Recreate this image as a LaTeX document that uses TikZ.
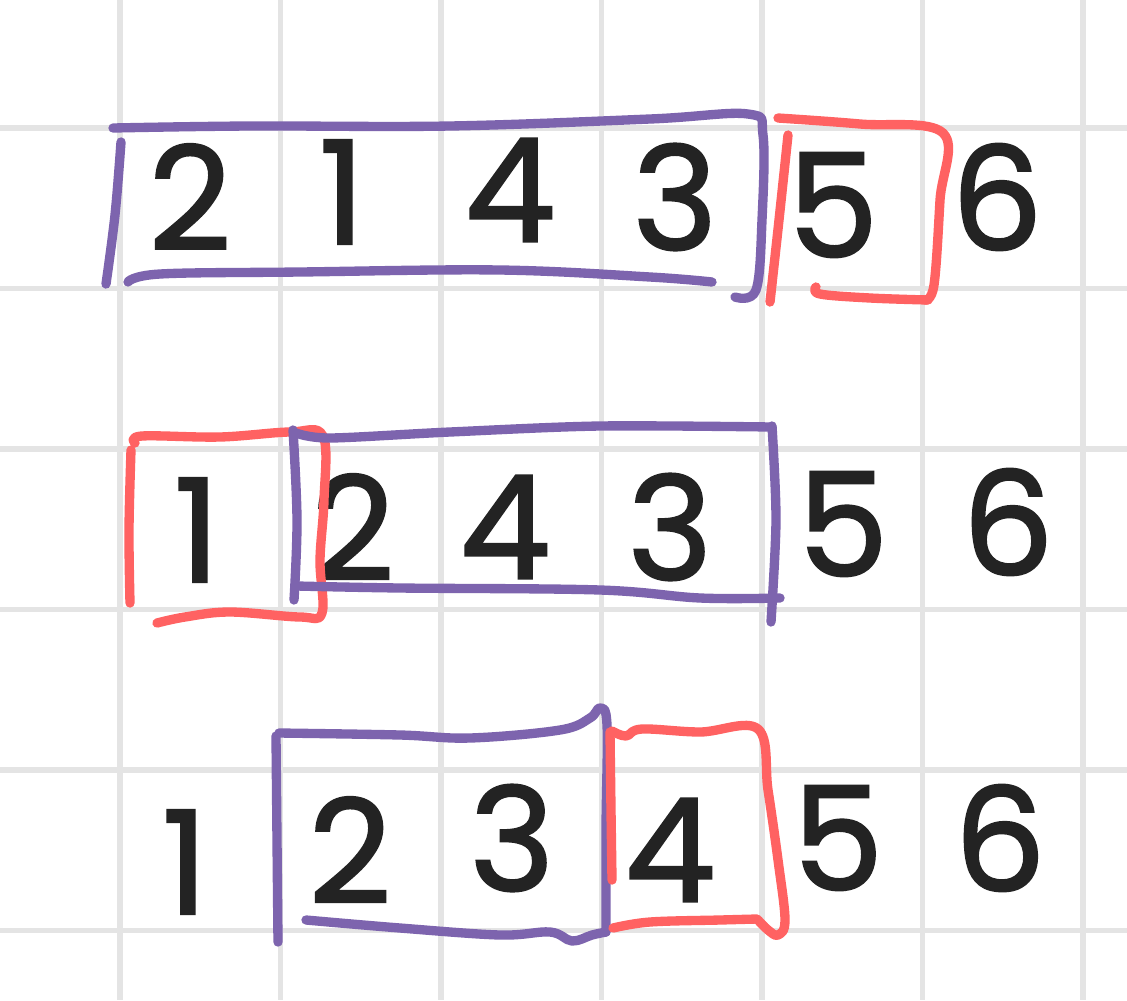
\documentclass[tikz,border=0pt]{standalone}
\usepackage{fontspec}
\setmainfont{Poppins}
\newfontfamily\digfont[FakeBold=1.6]{Poppins}
\definecolor{gridc}{HTML}{E4E4E4}
\definecolor{purp}{HTML}{7D64AE}
\definecolor{redc}{HTML}{FF6262}
\definecolor{ink}{HTML}{232323}
\begin{document}
\begin{tikzpicture}[x=0.75pt,y=-0.75pt,
  gridline/.style={gridc,line width=3.8pt},
  pbox/.style={purp,line width=7pt,line cap=round,line join=round},
  rbox/.style={redc,line width=7pt,line cap=round,line join=round},
  digit/.style={ink,inner sep=0pt,font=\digfont\fontsize{108}{108}\selectfont}]
\useasboundingbox (0,0) rectangle (1127,1000);
\fill[white] (0,0) rectangle (1127,1000);
% grid
\foreach \gx in {120,280.5,441,601.5,762,922.5,1083}
  \draw[gridline] (\gx,0) -- (\gx,1000);
\foreach \gy in {128,288.5,449,609.5,770,930.5}
  \draw[gridline] (0,\gy) -- (1127,\gy);
% row 1 digits
\node[digit] (a1) at (190,197) {2};
\node[digit] (a2) at (342,192) {1};
\node[digit] (a3) at (510,190) {4};
\node[digit] (a4) at (675,197) {3};
\node[digit] (a5) at (833,205) {5};
\node[digit] (a6) at (997,197) {6};
% row 2 digits
\node[digit] (b1) at (197,530) {1};
\node[digit] (b2) at (353,527) {2};
\node[digit] (b3) at (505,527) {4};
\node[digit] (b4) at (670,527) {3};
\node[digit] (b5) at (843,524) {5};
\node[digit] (b6) at (1008,522) {6};
% row 3 digits
\node[digit] (c1) at (185,862) {1};
\node[digit] (c2) at (350,850) {2};
\node[digit] (c3) at (512,838) {3};
\node[digit] (c4) at (670,850) {4};
\node[digit] (c5) at (838,838) {5};
\node[digit] (c6) at (1000,838) {6};
% row 1 purple box
\draw[pbox] plot[smooth,tension=0.6] coordinates {(121,142) (115,215) (106,284)};
\draw[pbox] plot[smooth,tension=0.6] coordinates {(113,128) (250,126) (450,126) (650,119) (748,114) (763,135) (762,220) (756,290) (735,297)};
\draw[pbox] plot[smooth,tension=0.6] coordinates {(128,282) (160,274) (300,272) (500,270) (650,277) (712,282)};
% row 1 red box
\draw[rbox] plot[smooth,tension=0.6] coordinates {(788,135) (779,220) (770,302)};
\draw[rbox] plot[smooth,tension=0.6] coordinates {(778,118) (860,124) (943,133) (940,200) (934,285) (925,300)};
\draw[rbox] plot[smooth,tension=0.6] coordinates {(816,287) (820,294) (870,298) (928,300)};
% row 2 red box
\draw[rbox] plot[smooth,tension=0.6] coordinates {(131,450) (129,530) (130,603)};
\draw[rbox] plot[smooth,tension=0.6] coordinates {(135,443) (142,436) (220,437) (290,432) (323,436) (324,500) (320,560) (322,613) (300,617) (230,612) (185,617) (157,623)};
% row 2 purple box
\draw[pbox] plot[smooth,tension=0.6] coordinates {(293,430) (297,520) (294,600)};
\draw[pbox] plot[smooth,tension=0.5] coordinates {(296,433) (330,438) (450,432) (600,426) (772,427)};
\draw[pbox] plot[smooth,tension=0.5] coordinates {(772,426) (776,520) (771,622)};
\draw[pbox] plot[smooth,tension=0.6] coordinates {(297,586) (400,588) (600,590) (700,598) (780,598)};
% row 3 purple box
\draw[pbox] plot[smooth,tension=0.6] coordinates {(276,736) (277,840) (278,942)};
\draw[pbox] plot[smooth,tension=0.6] coordinates {(279,733) (400,735) (470,738) (560,730) (590,718) (600,708) (607,725) (606,830) (606,932)};
\draw[pbox] plot[smooth,tension=0.6] coordinates {(306,920) (400,928) (500,935) (550,932) (572,941) (592,935) (606,932)};
% row 3 red box
\draw[rbox] plot[smooth,tension=0.6] coordinates {(610,732) (611,810) (612,880)};
\draw[rbox] plot[smooth,tension=0.6] coordinates {(612,731) (626,736) (642,729) (700,732) (758,729) (768,790) (778,860) (785,920) (778,935) (768,930) (758,920)};
\draw[rbox] plot[smooth,tension=0.6] coordinates {(613,928) (650,922) (720,920) (757,919)};
\end{tikzpicture}
\end{document}
